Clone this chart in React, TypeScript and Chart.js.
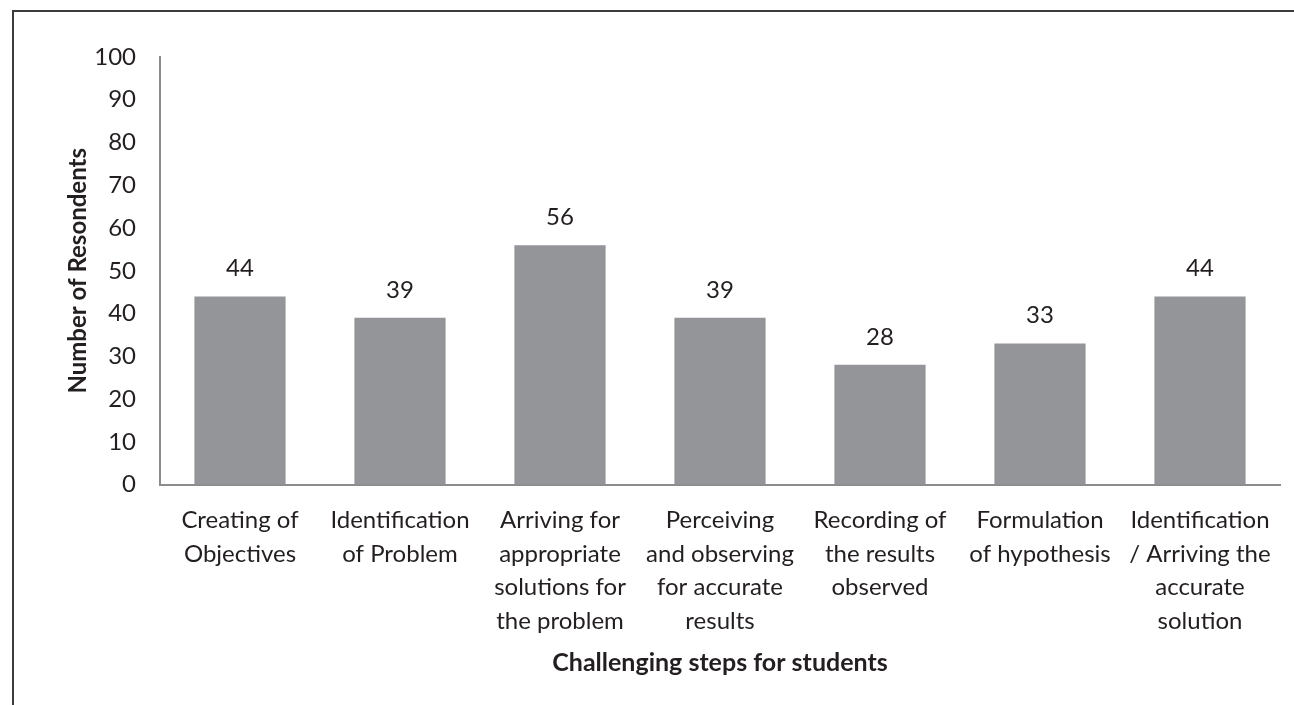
import { useEffect, useRef } from "react";
import { Chart, registerables } from "chart.js";

Chart.register(...registerables);

const categories: string[][] = [
  ["Creating of", "Objectives"],
  ["Identification", "of Problem"],
  ["Arriving for", "appropriate", "solutions for", "the problem"],
  ["Perceiving", "and observing", "for accurate", "results"],
  ["Recording of", "the results", "observed"],
  ["Formulation", "of hypothesis"],
  ["Identification", "/ Arriving the", "accurate", "solution"],
];

const respondents = [44, 39, 56, 39, 28, 33, 44];

const yTicks = [0, 10, 20, 30, 40, 50, 60, 70, 80, 90, 100];

const FONT = "Lato, 'Open Sans', sans-serif";
const TEXT = "#231f20";

// writes the value above each bar
const valueLabels = {
  id: "valueLabels",
  afterDatasetsDraw(chart: Chart) {
    const ctx = chart.ctx;
    const meta = chart.getDatasetMeta(0);
    ctx.save();
    ctx.font = `24px ${FONT}`;
    ctx.fillStyle = TEXT;
    ctx.textAlign = "center";
    ctx.textBaseline = "middle";
    meta.data.forEach((bar: any, i: number) => {
      ctx.fillText(String(respondents[i]), bar.x, bar.y - 28);
    });
    ctx.restore();
  },
};

const App = () => {
  const canvasRef = useRef<HTMLCanvasElement | null>(null);
  const chartRef = useRef<Chart | null>(null);

  useEffect(() => {
    if (!canvasRef.current) return;
    if (chartRef.current) chartRef.current.destroy();

    chartRef.current = new Chart(canvasRef.current, {
      type: "bar",
      data: {
        labels: categories,
        datasets: [
          {
            data: respondents,
            backgroundColor: "#939598",
            barPercentage: 0.57,
            categoryPercentage: 1,
          },
        ],
      },
      options: {
        responsive: true,
        maintainAspectRatio: false,
        animation: false,
        layout: { padding: { top: 57, right: 14, bottom: 27, left: 64 } },
        plugins: {
          legend: { display: false },
          tooltip: { enabled: false },
        },
        scales: {
          x: {
            grid: { display: false, drawTicks: false },
            border: { color: "#8c8c8c", width: 2 },
            ticks: {
              color: TEXT,
              font: { family: FONT, size: 24, lineHeight: 1.4 },
              maxRotation: 0,
              autoSkip: false,
              padding: 19,
            },
            title: {
              display: true,
              text: "Challenging steps for students",
              color: TEXT,
              font: { family: FONT, size: 25, weight: "bold" },
              padding: { top: -9, bottom: 0 },
            },
          },
          y: {
            min: 0,
            max: 100,
            afterBuildTicks: (scale: any) => {
              scale.ticks = yTicks.map((v) => ({ value: v }));
            },
            afterFit: (scale: any) => {
              scale.width = 96;
            },
            grid: { display: false, drawTicks: false },
            border: { color: "#8c8c8c", width: 2 },
            ticks: {
              color: TEXT,
              font: { family: FONT, size: 24 },
              padding: 24,
            },
            title: {
              display: true,
              text: "Number of Resondents",
              color: TEXT,
              font: { family: FONT, size: 24, weight: "bold" },
              padding: { top: 0, bottom: 0 },
            },
          },
        },
      },
      plugins: [valueLabels],
    });

    return () => {
      if (chartRef.current) {
        chartRef.current.destroy();
        chartRef.current = null;
      }
    };
  }, []);

  return (
    <div
      style={{
        position: "fixed",
        left: 0,
        top: 0,
        width: 1294,
        height: 705,
        background: "#fff",
        overflow: "hidden",
      }}
    >
      <div
        style={{
          position: "absolute",
          left: 12,
          top: 10,
          width: 1300,
          height: 720,
          borderTop: "2px solid #3c3c3c",
          borderLeft: "2px solid #3c3c3c",
        }}
      />
      <div style={{ position: "absolute", left: 0, top: 0, width: 1294, height: 705 }}>
        <canvas ref={canvasRef} />
      </div>
    </div>
  );
};

export default App;
